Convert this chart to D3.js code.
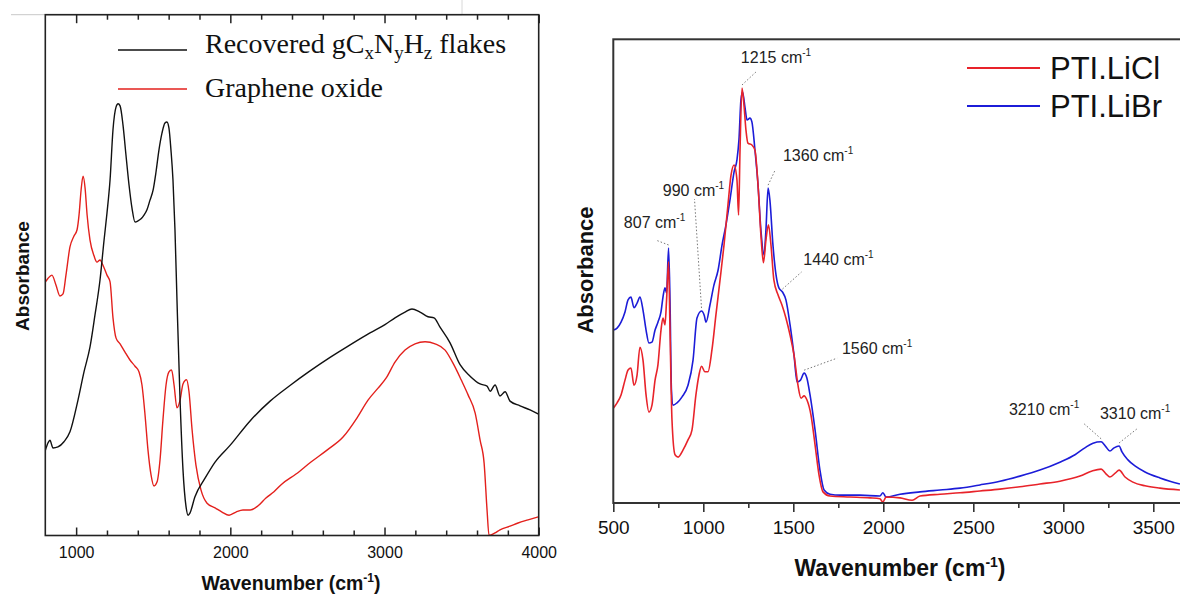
<!DOCTYPE html>
<html><head><meta charset="utf-8">
<script src="https://cdn.jsdelivr.net/npm/d3@7"></script>
<style>body{margin:0;background:#fff}svg{display:block}</style>
</head><body>
<svg id="c" width="1180" height="595"></svg>
<script>
// ---------- DATA (absorbance in arbitrary units 0-100 of panel height) ----------
const gcnWn  = [801,818,830,850,882,921,960,1012,1051,1090,1122,1155,1181,1200,1220,1239,1259,1272,1285,1304,1323,1343,1362,1382,1401,1421,1440,1460,1479,1499,1518,1537,1557,1576,1589,1602,1615,1628,1641,1654,1674,1693,1713,1726,1738,1770,1836,1901,1998,2128,2258,2387,2517,2647,2777,2906,3003,3068,3133,3178,3230,3282,3321,3360,3425,3490,3555,3620,3665,3685,3717,3749,3782,3814,3879,3944,3999];
const gcnAbs = [16.4,17.8,18.3,16.8,17.0,18.0,19.9,26.0,31.4,36.2,42.3,49.1,56.7,61.9,68.3,77.9,82.3,82.9,82.5,78.8,73.1,67.3,62.9,60.2,60.4,60.8,61.5,62.6,64.4,66.3,69.8,74.0,77.3,79.2,79.4,78.2,74.0,68.3,58.7,45.2,26.0,12.6,5.5,3.9,4.3,7.4,11.0,14.1,17.3,22.0,25.8,28.8,31.6,34.2,36.6,38.9,40.5,41.8,42.9,43.5,42.9,42.0,41.8,40.0,37.0,32.8,30.6,29.1,28.7,27.7,28.9,26.8,27.6,25.8,24.9,24.1,23.3];

const goWn  = [801,818,843,869,895,915,934,960,986,1006,1019,1032,1045,1058,1071,1090,1116,1135,1155,1174,1200,1220,1239,1259,1285,1317,1349,1382,1408,1427,1447,1466,1486,1505,1525,1544,1563,1583,1602,1619,1635,1654,1674,1693,1716,1732,1752,1777,1810,1849,1901,1946,1992,2037,2082,2128,2180,2231,2283,2335,2426,2523,2627,2731,2822,2893,2958,3010,3068,3133,3198,3263,3328,3393,3451,3497,3542,3588,3620,3646,3665,3678,3717,3749,3814,3866,3931,3999];
const goAbs = [48.7,49.4,50.0,48.1,46.0,46.4,50.0,55.4,57.5,58.7,61.6,66.3,69.0,66.7,61.6,56.7,53.7,52.5,52.9,51.9,50.0,48.7,41.8,37.9,36.8,35.2,33.7,32.5,31.4,28.9,23.1,16.4,11.6,9.5,10.3,14.5,22.2,28.9,31.4,31.8,28.9,24.5,26.0,29.1,29.9,27.6,20.3,13.5,8.7,6.2,5.3,4.5,3.9,4.5,4.9,4.9,5.7,7.2,8.4,9.9,11.8,14.1,16.4,18.9,22.6,26.0,28.3,30.2,33.3,35.6,36.8,37.2,36.8,35.6,32.7,29.9,27.0,23.5,18.3,13.9,4.9,0.0,0.5,1.1,1.8,2.4,3.0,3.6];

const liclWn  = [501,521,543,565,582,598,615,632,648,665,682,698,715,732,748,765,776,787,796,807,815,826,843,860,887,915,937,959,976,990,1009,1026,1048,1070,1093,1115,1137,1154,1171,1187,1196,1204,1215,1226,1237,1248,1270,1287,1304,1320,1334,1348,1362,1376,1392,1415,1437,1459,1482,1504,1526,1543,1560,1576,1598,1621,1643,1665,1704,1815,1926,1981,1998,2015,2093,2160,2204,2315,2426,2537,2648,2759,2870,2981,3093,3160,3210,3237,3259,3290,3310,3343,3387,3454,3537,3648];
const liclAbs = [20.5,21.6,23.3,26.5,28.7,29.1,25.4,27.6,33.6,30.8,23.3,19.6,21.1,26.5,29.8,37.3,39.9,38.4,43.8,52.0,37.3,17.9,10.4,9.9,11.4,13.6,15.7,23.3,27.6,29.5,28.3,28.3,33.0,40.5,48.1,55.6,64.3,70.7,72.9,69.7,62.1,76.1,89.5,85.8,80.4,77.6,77.2,76.1,68.6,57.8,51.8,56.7,60.0,55.6,48.1,44.9,42.7,39.9,36.2,31.9,25.4,22.6,23.1,22.2,19.0,12.5,6.0,2.4,1.5,1.3,1.1,0.9,0.2,1.3,1.1,0.6,1.5,1.9,2.2,2.6,3.0,3.5,4.1,4.7,5.8,6.9,7.3,6.3,5.6,6.5,7.1,5.6,4.5,3.7,3.2,2.8];

const librWn  = [501,521,543,565,582,598,615,632,648,665,682,698,715,732,748,765,776,787,796,807,815,823,832,854,882,915,943,965,990,1005,1015,1037,1059,1082,1104,1126,1148,1171,1187,1198,1209,1218,1232,1243,1259,1270,1287,1304,1320,1337,1348,1360,1370,1387,1404,1420,1440,1459,1482,1504,1521,1540,1560,1575,1593,1621,1648,1671,1704,1759,1870,1981,1998,2015,2093,2204,2315,2426,2537,2648,2759,2870,2981,3065,3120,3165,3210,3237,3259,3282,3310,3326,3359,3398,3454,3537,3592,3648];
const librAbs = [37.3,37.7,39.0,41.2,43.8,44.4,42.1,43.1,44.4,41.6,37.3,34.5,34.7,37.3,39.0,41.2,44.4,46.4,45.3,55.0,43.8,24.4,21.1,21.6,22.9,25.4,30.8,39.9,41.4,40.5,39.0,42.7,47.0,50.2,55.6,60.0,65.3,71.4,74.0,78.3,86.9,88.6,85.2,82.6,83.0,82.2,76.1,68.6,58.9,53.5,58.9,67.9,65.3,55.6,49.2,46.4,45.5,43.8,38.4,31.9,26.1,26.5,28.0,27.0,23.3,15.7,7.1,2.8,1.9,1.7,1.7,1.5,2.2,1.3,1.9,2.4,2.8,3.2,3.9,4.7,5.8,7.1,8.8,10.4,11.9,12.9,13.2,12.1,11.2,11.9,12.3,11.0,9.3,8.0,6.7,5.4,4.7,4.1];

const leftTicks = [1000,2000,3000,4000];
const leftMinor = [1200,1400,1600,1800,2200,2400,2600,2800,3200,3400,3600,3800];
const rightTicks = [500,1000,1500,2000,2500,3000,3500];
const rightMinor = [750,1250,1750,2250,2750,3250];
const leftSeries = ["Recovered gC_xN_yH_z flakes","Graphene oxide"];
const rightSeries = ["PTI.LiCl","PTI.LiBr"];
const peakLabels = [
  {wn:807, t:"807"},{wn:990,t:"990"},{wn:1215,t:"1215"},{wn:1360,t:"1360"},
  {wn:1440,t:"1440"},{wn:1560,t:"1560"},{wn:3210,t:"3210"},{wn:3310,t:"3310"}];

// ---------- LAYOUT ----------
const svg = d3.select("#c");
const L = {x0:45.3, x1:538.7, y0:14.7, y1:535.5};
const R = {x0:613.3, x1:1189.3, y0:39.3, y1:503};
const xL = d3.scaleLinear().domain([800,4000]).range([L.x0,L.x1]);
const yL = d3.scaleLinear().domain([0,100]).range([L.y1,L.y0]);
const xR = d3.scaleLinear().domain([500,3700]).range([R.x0,R.x1]);
const yR = d3.scaleLinear().domain([0,100]).range([R.y1,R.y0]);

// artifacts of the original picture
svg.append("line").attr("x1",11).attr("x2",462).attr("y1",14.7).attr("y2",14.7).attr("stroke","#c8c8c8").attr("stroke-width",1);
svg.append("line").attr("x1",462).attr("x2",462).attr("y1",0).attr("y2",14.7).attr("stroke","#d8d8d8").attr("stroke-width",1);

const defs = svg.append("defs");
defs.append("clipPath").attr("id","clipL").append("rect").attr("x",L.x0).attr("y",L.y0).attr("width",L.x1-L.x0).attr("height",L.y1-L.y0);
defs.append("clipPath").attr("id","clipR").append("rect").attr("x",R.x0).attr("y",R.y0).attr("width",R.x1-R.x0).attr("height",R.y1-R.y0);

// ---------- LEFT PANEL ----------
const lineL = d3.line().x(d=>xL(d[0])).y(d=>yL(d[1])).curve(d3.curveMonotoneX);
const gL = svg.append("g");
gL.append("path").datum(goWn.map((w,i)=>[w,goAbs[i]])).attr("clip-path","url(#clipL)")
  .attr("d",lineL).attr("fill","none").attr("stroke","#e3201c").attr("stroke-width",1.4);
gL.append("path").datum(gcnWn.map((w,i)=>[w,gcnAbs[i]])).attr("clip-path","url(#clipL)")
  .attr("d",lineL).attr("fill","none").attr("stroke","#111").attr("stroke-width",1.4);

// axes (ticks inward)
const axLB = gL.append("g").attr("transform",`translate(0,${L.y1})`)
  .call(d3.axisBottom(xL).tickValues(leftTicks).tickSize(-8).tickFormat(d3.format("d")));
axLB.selectAll("text").attr("y",22).attr("dy",0).attr("font-family","Liberation Sans, Arial, sans-serif").attr("font-size",16).attr("fill","#111");
gL.append("g").attr("transform",`translate(0,${L.y1})`)
  .call(d3.axisBottom(xL).tickValues(leftMinor).tickSize(-5).tickFormat(""));
gL.append("g").attr("transform",`translate(0,${L.y0})`)
  .call(d3.axisTop(xL).tickValues(leftTicks).tickSize(-8.5).tickFormat(""));
gL.append("g").attr("transform",`translate(0,${L.y0})`)
  .call(d3.axisTop(xL).tickValues(leftMinor).tickSize(-5).tickFormat(""));
gL.selectAll(".domain").remove();
gL.selectAll(".tick line").attr("stroke","#222").attr("stroke-width",1.5);
gL.append("rect").attr("x",L.x0).attr("y",L.y0).attr("width",L.x1-L.x0).attr("height",L.y1-L.y0)
  .attr("fill","none").attr("stroke","#222").attr("stroke-width",1.6);

gL.append("text").attr("transform",`translate(29,276) rotate(-90)`).attr("text-anchor","middle")
  .attr("font-family","Liberation Sans, Arial, sans-serif").attr("font-weight","bold").attr("font-size",19).attr("fill","#111").text("Absorbance");
const tL = gL.append("text").attr("x",291).attr("y",590).attr("text-anchor","middle")
  .attr("font-family","Liberation Sans, Arial, sans-serif").attr("font-weight","bold").attr("font-size",19.5).attr("fill","#111");
tL.append("tspan").text("Wavenumber (cm");
tL.append("tspan").attr("dy",-8).attr("font-size",12).text("-1");
tL.append("tspan").attr("dy",8).text(")");

// legend left
const legL = gL.append("g").attr("font-family","Liberation Serif, Times New Roman, serif").attr("font-size",28).attr("fill","#111");
[[50,"#111"],[89,"#e3201c"]].forEach(([y,c])=>{
  legL.append("line").attr("x1",118).attr("x2",187).attr("y1",y).attr("y2",y).attr("stroke",c).attr("stroke-width",1.5);
});
const lt1 = legL.append("text").attr("x",205).attr("y",59);
leftSeries[0].split(/(_[a-z])/).filter(s=>s).forEach(s=>{
  if (s[0]==="_") lt1.append("tspan").attr("dy",6).attr("font-size",19).text(s.slice(1));
  else lt1.append("tspan").attr("dy",lt1.selectAll("tspan").size()?-6:0).text(s);
});
legL.append("text").attr("x",205).attr("y",97).text(leftSeries[1]);

// ---------- RIGHT PANEL ----------
const lineR = d3.line().x(d=>xR(d[0])).y(d=>yR(d[1])).curve(d3.curveMonotoneX);
const gR = svg.append("g");
gR.append("path").datum(librWn.map((w,i)=>[w,librAbs[i]])).attr("clip-path","url(#clipR)")
  .attr("d",lineR).attr("fill","none").attr("stroke","#1c1cd8").attr("stroke-width",1.6);
gR.append("path").datum(liclWn.map((w,i)=>[w,liclAbs[i]])).attr("clip-path","url(#clipR)")
  .attr("d",lineR).attr("fill","none").attr("stroke","#e8232a").attr("stroke-width",1.6);

const axRB = gR.append("g").attr("transform",`translate(0,${R.y1})`)
  .call(d3.axisBottom(xR).tickValues(rightTicks).tickSize(9).tickFormat(d3.format("d")));
axRB.selectAll("text").attr("y",31).attr("dy",0).attr("font-family","Liberation Sans, Arial, sans-serif").attr("font-size",19).attr("fill","#111");
gR.append("g").attr("transform",`translate(0,${R.y1})`)
  .call(d3.axisBottom(xR).tickValues(rightMinor).tickSize(5).tickFormat(""));
gR.selectAll(".domain").remove();
gR.selectAll(".tick line").attr("stroke","#333").attr("stroke-width",1.6);
gR.append("rect").attr("x",R.x0).attr("y",R.y0).attr("width",R.x1-R.x0).attr("height",R.y1-R.y0)
  .attr("fill","none").attr("stroke","#333").attr("stroke-width",2);

gR.append("text").attr("transform",`translate(593,270) rotate(-90)`).attr("text-anchor","middle")
  .attr("font-family","Liberation Sans, Arial, sans-serif").attr("font-weight","bold").attr("font-size",22).attr("fill","#111").text("Absorbance");
const tR = gR.append("text").attr("x",900).attr("y",576).attr("text-anchor","middle")
  .attr("font-family","Liberation Sans, Arial, sans-serif").attr("font-weight","bold").attr("font-size",23).attr("fill","#111");
tR.append("tspan").text("Wavenumber (cm");
tR.append("tspan").attr("dy",-9).attr("font-size",14).text("-1");
tR.append("tspan").attr("dy",9).text(")");

// legend right
const legR = gR.append("g").attr("font-family","Liberation Sans, Arial, sans-serif").attr("font-size",31).attr("fill","#111");
[[68,"#e8232a",rightSeries[0]],[106,"#1c1cd8",rightSeries[1]]].forEach(([y,c,t])=>{
  legR.append("line").attr("x1",967).attr("x2",1040).attr("y1",y).attr("y2",y).attr("stroke",c).attr("stroke-width",1.8);
  legR.append("text").attr("x",1050).attr("y",y+11).text(t);
});

// peak annotations: label position offsets (px) relative to peak point on LiBr curve
const annot = {
  807:{dx:-14,dy:-20, lx:-13, ly:-8},
  990:{dx:-8,dy:-115, lx:-7, ly:-112},
  1215:{dx:34,dy:-25, lx:15, ly:-17},
  1360:{dx:50,dy:-27, lx:7, ly:-18},
  1440:{dx:56,dy:-27, lx:19, ly:-20},
  1560:{dx:73,dy:-19, lx:33, ly:-15},
  3210:{dx:-57,dy:-27, lx:-17, ly:-18},
  3310:{dx:16,dy:-27, lx:19, ly:-18}
};
const interpB = w => { // value on LiBr curve at w, from the read points
  let i = d3.bisectLeft(librWn,w); i = Math.min(Math.max(i,1),librWn.length-1);
  const a=librWn[i-1], b=librWn[i]; const t=(w-a)/(b-a);
  return librAbs[i-1]*(1-t)+librAbs[i]*t; };
const gA = gR.append("g").attr("font-family","Liberation Sans, Arial, sans-serif").attr("font-size",16).attr("fill","#222");
peakLabels.forEach(p=>{
  const a = annot[p.wn];
  const px = xR(p.wn), py = yR(p.wn===1215 ? Math.max(interpB(p.wn), 89.5) : interpB(p.wn));
  gA.append("line").attr("x1",px).attr("y1",py-3).attr("x2",px+a.lx).attr("y2",py+a.ly)
    .attr("stroke","#777").attr("stroke-width",1).attr("stroke-dasharray","1.5,2");
  const t = gA.append("text").attr("x",px+a.dx).attr("y",py+a.dy).attr("text-anchor","middle");
  t.append("tspan").text(p.t+" cm");
  t.append("tspan").attr("dy",-7).attr("font-size",10).text("-1");
});
</script>
</body></html>
